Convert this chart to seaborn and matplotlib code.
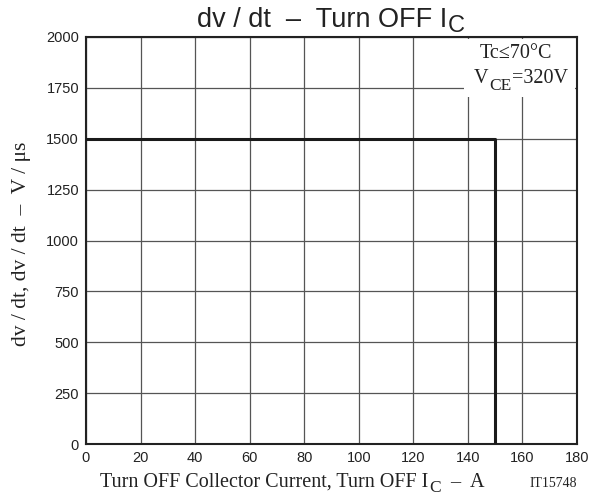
import pandas as pd
import matplotlib
matplotlib.use("Agg")
import matplotlib.pyplot as plt
import seaborn as sns
from matplotlib.patches import Rectangle

# =========================
# Data (dv/dt limit curve)
# =========================

current_a = [0, 150, 150]
dvdt_v_us = [1500, 1500, 0]

x_ticks = [0, 20, 40, 60, 80, 100, 120, 140, 160, 180]
y_ticks = [0, 250, 500, 750, 1000, 1250, 1500, 1750, 2000]

df = pd.DataFrame({"Ic": current_a, "dvdt": dvdt_v_us})

# =========================
# Plot
# =========================

sns.set_style("white")
plt.rcParams["font.family"] = ["Liberation Sans", "DejaVu Sans"]

W, H = 598, 501
fig = plt.figure(figsize=(W / 100, H / 100), dpi=100)
ax = fig.add_axes([86 / W, 57 / H, 491 / W, 407 / H])

sns.lineplot(data=df, x="Ic", y="dvdt", sort=False, estimator=None,
             color="#1a1a1a", linewidth=2.2, ax=ax, zorder=3)

ax.set_xlim(0, 180)
ax.set_ylim(0, 2000)
ax.set_xticks(x_ticks)
ax.set_yticks(y_ticks)
ax.tick_params(axis="both", length=0, labelsize=10.5, colors="#222222")
ax.tick_params(axis="y", pad=5)
ax.tick_params(axis="x", pad=5)
ax.grid(True, color="#555555", linewidth=0.9)
ax.set_xlabel("")
ax.set_ylabel("")

for s in ax.spines.values():
    s.set_visible(True)
    s.set_color("#222222")
    s.set_linewidth(1.5)

serif = ["Liberation Serif", "DejaVu Serif"]
ink = "#222222"


def chain(parts, x0, base, family, ha="left"):
    # parts: (text, size, drop in px)
    texts = []
    x = x0
    for txt, size, drop in parts:
        t = fig.text(x / W, (H - base - drop) / H, txt, fontsize=size,
                     family=family, color=ink, ha="left", va="baseline")
        fig.canvas.draw()
        x = t.get_window_extent().x1 + 0.5
        texts.append(t)
    if ha == "center":
        shift = (x - x0) / 2
        for t in texts:
            px, py = t.get_position()
            t.set_position((px - shift / W, py))
    return texts


# title
chain([("dv / dt  –  Turn OFF I", 19.5, 0), ("C", 17, 5)],
      331, 27, ["Liberation Sans", "DejaVu Sans"], ha="center")

# x label
chain([("Turn OFF Collector Current, Turn OFF I", 14.5, 0), ("C", 12.5, 5),
       ("  –  A", 14.5, 0)], 100, 487, serif)
fig.text(577 / W, (H - 487) / H, "IT15748", family=serif, fontsize=10,
         color=ink, ha="right", va="baseline")

# y label
fig.text(22 / W, 1 - 244 / H, "dv / dt, dv / dt  –  V / μs", family=serif,
         fontsize=15.5, color=ink, rotation=90, ha="center", va="center")

# conditions box
ax.add_patch(Rectangle((0.77, 0.853), 0.225, 0.142, transform=ax.transAxes,
                       facecolor="white", edgecolor="none", zorder=2.5))
chain([("Tc≤70°C", 14.5, 0)], 516, 58, serif, ha="center")
chain([("V", 14.5, 0), ("CE", 12.5, 7), ("=320V", 14.5, 0)], 521, 83, serif,
      ha="center")

fig.savefig("out.png", dpi=100)
